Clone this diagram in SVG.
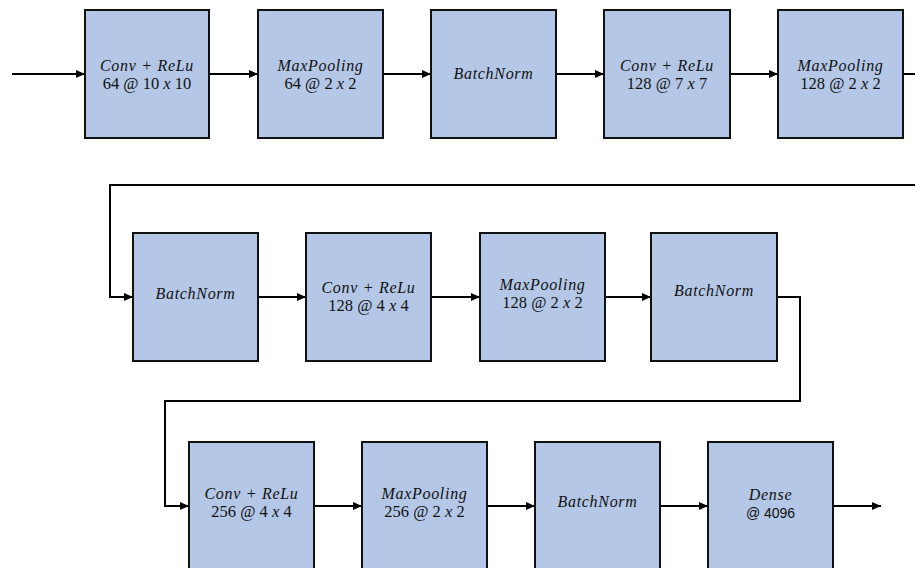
<svg xmlns="http://www.w3.org/2000/svg" width="915" height="568" viewBox="0 0 915 568">
<defs>
<marker id="ah" markerWidth="10" markerHeight="8" refX="9" refY="4" orient="auto" markerUnits="userSpaceOnUse">
<path d="M0,0 L9,4 L0,8 Z" fill="#000"/>
</marker>
<style>
.box{fill:#B4C7E7;stroke:#111;stroke-width:2}
.c{fill:none;stroke:#000;stroke-width:2}
text{font-family:"Liberation Serif","DejaVu Serif",serif;font-size:16px;fill:#111;text-anchor:middle}
.i{font-style:italic;letter-spacing:0.7px}
.n{font-size:16.5px}
.s{font-family:"Liberation Sans","Open Sans",sans-serif;font-size:14px}
</style>
</defs>
<g id="connectors">
<line class="c" x1="12" y1="74" x2="85" y2="74" marker-end="url(#ah)"/>
<line class="c" x1="209" y1="74" x2="258" y2="74" marker-end="url(#ah)"/>
<line class="c" x1="383" y1="74" x2="431" y2="74" marker-end="url(#ah)"/>
<line class="c" x1="556" y1="74" x2="604" y2="74" marker-end="url(#ah)"/>
<line class="c" x1="730" y1="74" x2="778" y2="74" marker-end="url(#ah)"/>
<line class="c" x1="903" y1="74" x2="916" y2="74"/>
<polyline class="c" points="916,185 110,185 110,297 133,297" marker-end="url(#ah)"/>
<line class="c" x1="258" y1="297" x2="306" y2="297" marker-end="url(#ah)"/>
<line class="c" x1="431" y1="297" x2="480" y2="297" marker-end="url(#ah)"/>
<line class="c" x1="605" y1="297" x2="651" y2="297" marker-end="url(#ah)"/>
<polyline class="c" points="777,297 800,297 800,401 165,401 165,506 189,506" marker-end="url(#ah)"/>
<line class="c" x1="314" y1="506" x2="362" y2="506" marker-end="url(#ah)"/>
<line class="c" x1="487" y1="506" x2="535" y2="506" marker-end="url(#ah)"/>
<line class="c" x1="660" y1="506" x2="708" y2="506" marker-end="url(#ah)"/>
<line class="c" x1="833" y1="506" x2="881" y2="506" marker-end="url(#ah)"/>
</g>
<g id="n1"><rect class="box" x="85" y="10" width="124" height="128"/><text class="i" x="147" y="71">Conv + ReLu</text><text class="n" x="147" y="89">64 @ 10 <tspan font-style="italic">x</tspan> 10</text></g>
<g id="n2"><rect class="box" x="258" y="10" width="125" height="128"/><text class="i" x="320.5" y="71">MaxPooling</text><text class="n" x="320.5" y="89">64 @ 2 <tspan font-style="italic">x</tspan> 2</text></g>
<g id="n3"><rect class="box" x="431" y="10" width="125" height="128"/><text class="i" x="493.5" y="79">BatchNorm</text></g>
<g id="n4"><rect class="box" x="604" y="10" width="126" height="128"/><text class="i" x="667" y="71">Conv + ReLu</text><text class="n" x="667" y="89">128 @ 7 <tspan font-style="italic">x</tspan> 7</text></g>
<g id="n5"><rect class="box" x="778" y="10" width="125" height="128"/><text class="i" x="840.5" y="71">MaxPooling</text><text class="n" x="840.5" y="89">128 @ 2 <tspan font-style="italic">x</tspan> 2</text></g>
<g id="n6"><rect class="box" x="133" y="233" width="125" height="128"/><text class="i" x="195.5" y="299">BatchNorm</text></g>
<g id="n7"><rect class="box" x="306" y="233" width="125" height="128"/><text class="i" x="368.5" y="293">Conv + ReLu</text><text class="n" x="368.5" y="311">128 @ 4 <tspan font-style="italic">x</tspan> 4</text></g>
<g id="n8"><rect class="box" x="480" y="233" width="125" height="128"/><text class="i" x="542.5" y="290">MaxPooling</text><text class="n" x="542.5" y="308">128 @ 2 <tspan font-style="italic">x</tspan> 2</text></g>
<g id="n9"><rect class="box" x="651" y="233" width="126" height="128"/><text class="i" x="714" y="296">BatchNorm</text></g>
<g id="n10"><rect class="box" x="189" y="442" width="125" height="140"/><text class="i" x="251.5" y="499">Conv + ReLu</text><text class="n" x="251.5" y="517">256 @ 4 <tspan font-style="italic">x</tspan> 4</text></g>
<g id="n11"><rect class="box" x="362" y="442" width="125" height="140"/><text class="i" x="424.5" y="499">MaxPooling</text><text class="n" x="424.5" y="517">256 @ 2 <tspan font-style="italic">x</tspan> 2</text></g>
<g id="n12"><rect class="box" x="535" y="442" width="125" height="140"/><text class="i" x="597.5" y="507">BatchNorm</text></g>
<g id="n13"><rect class="box" x="708" y="442" width="125" height="140"/><text class="i" x="770.5" y="500">Dense</text><text class="s" x="770.5" y="518">@ 4096</text></g>
</svg>
